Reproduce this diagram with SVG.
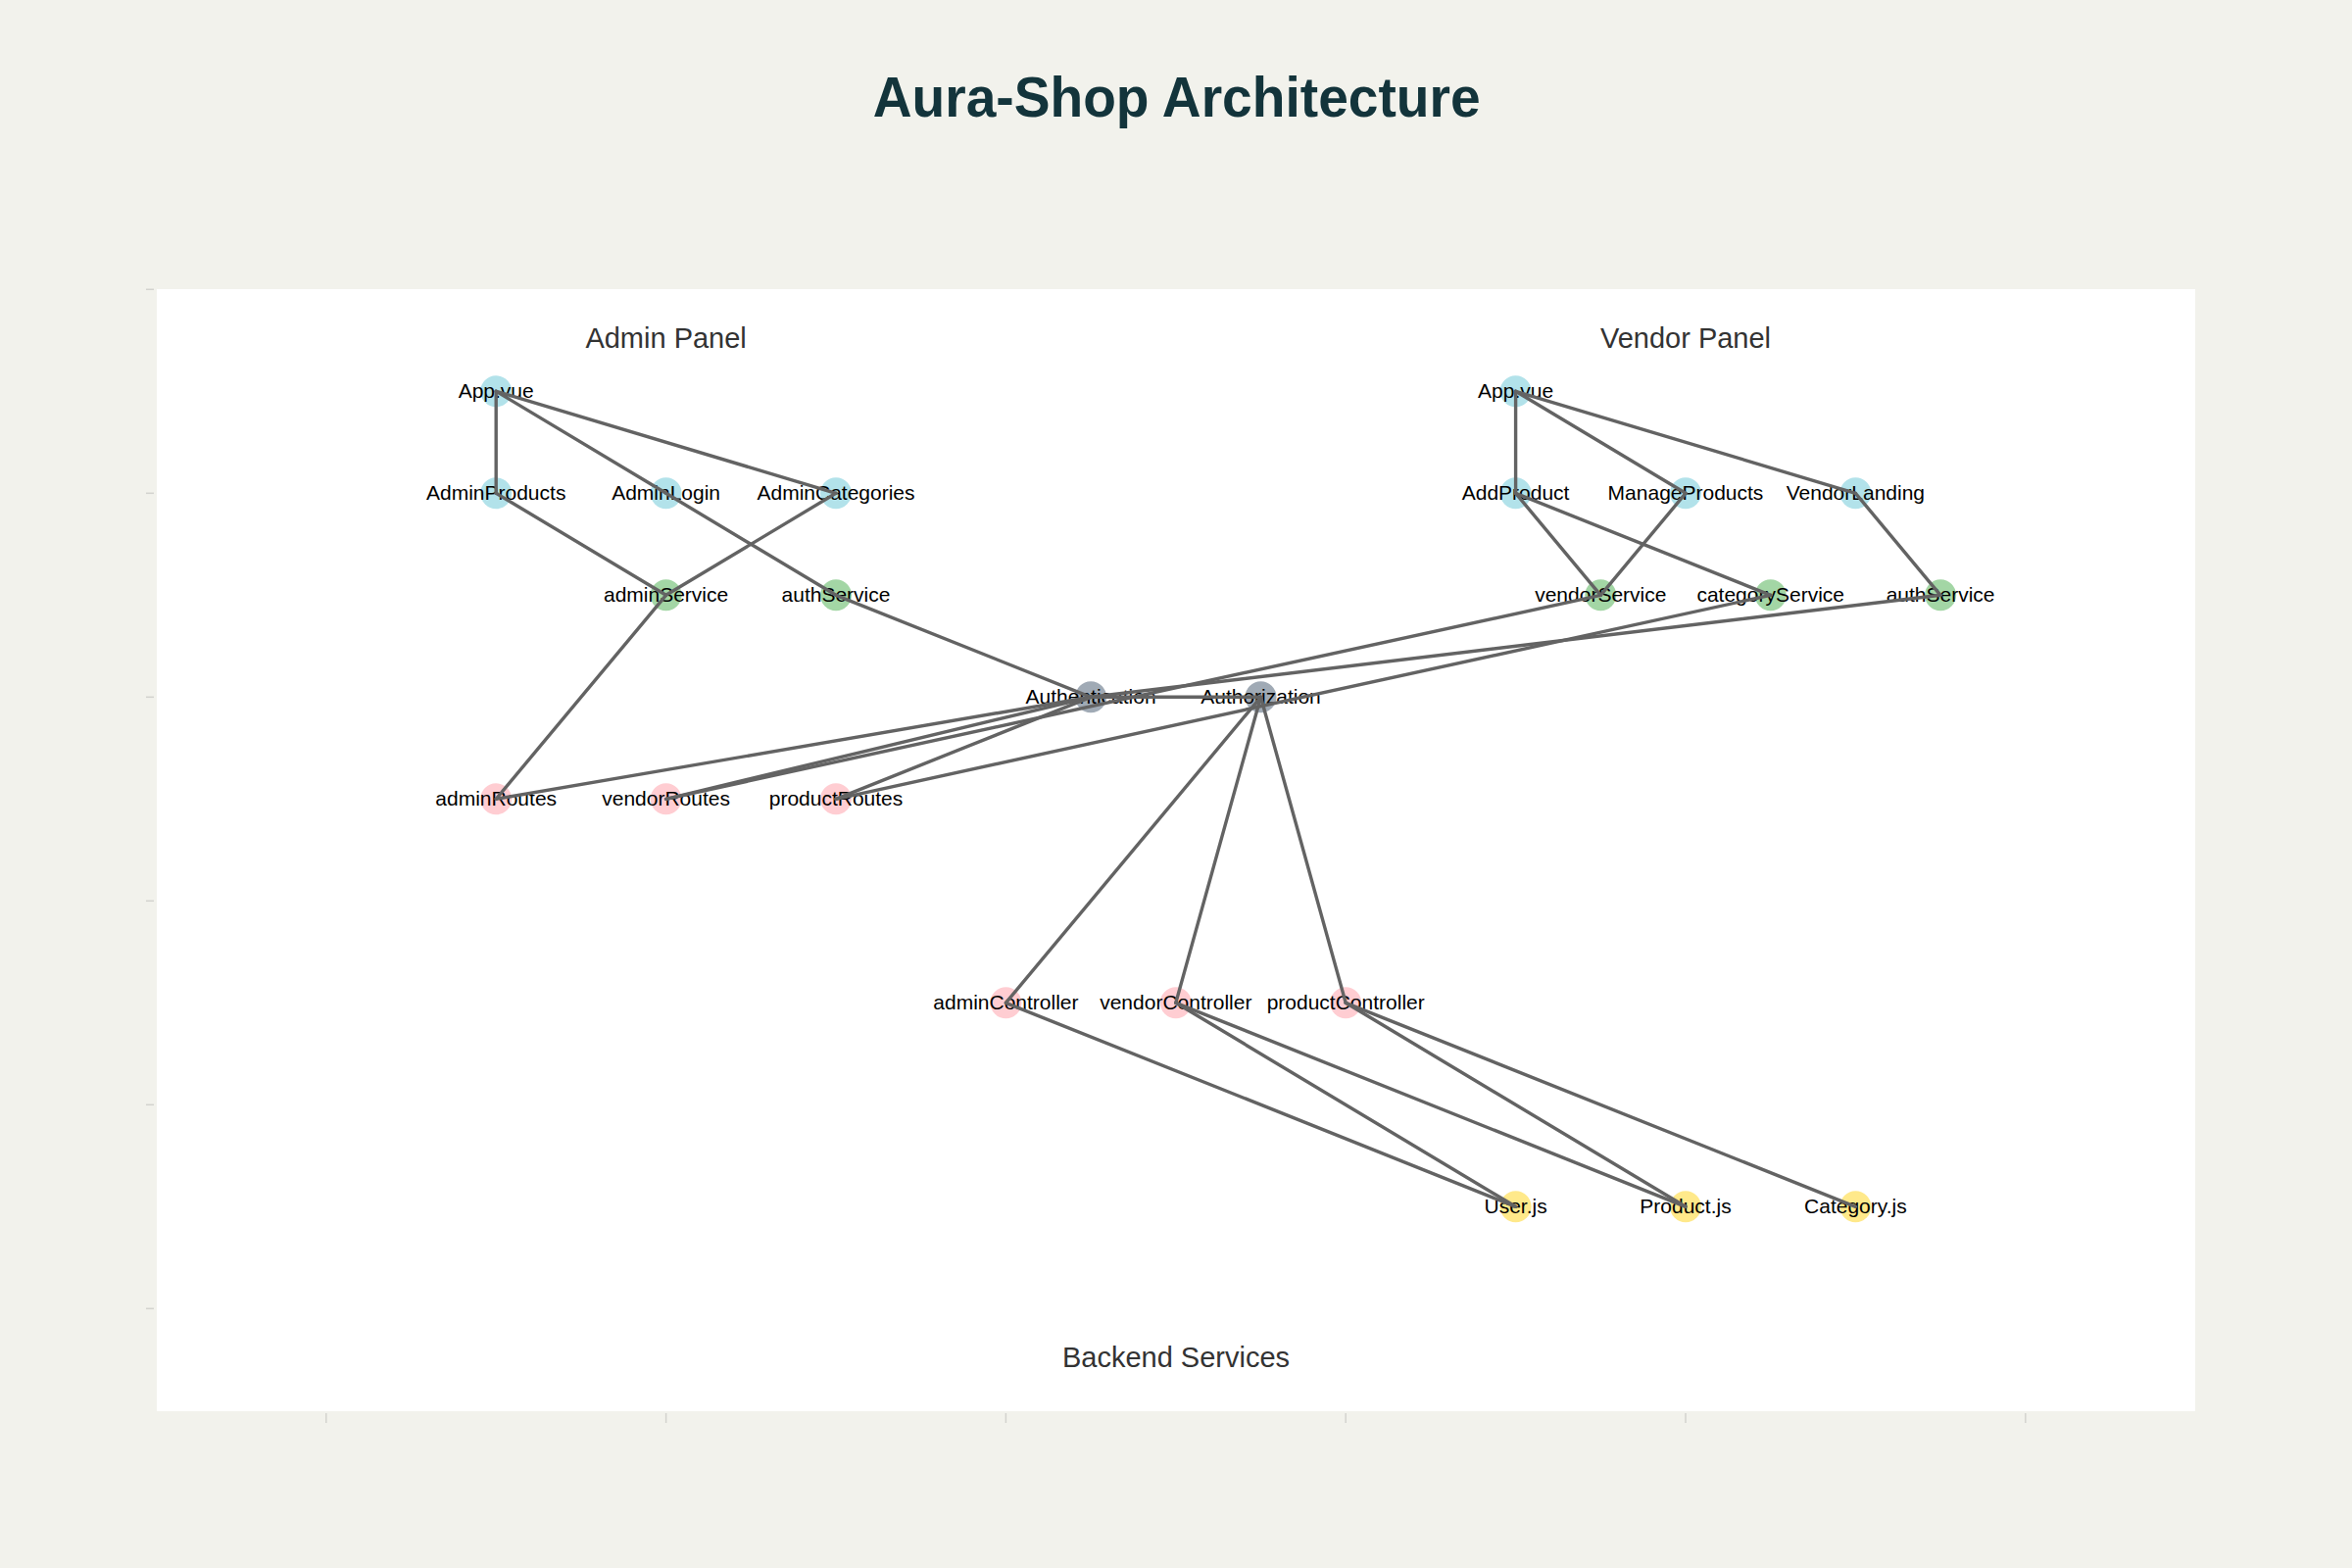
<svg xmlns="http://www.w3.org/2000/svg" width="2400" height="1600" viewBox="0 0 2400 1600">
<style>
.bg{fill:#F2F2EC}
.plot{fill:#FFFFFF}
.tick{stroke:#D3D3CF;stroke-width:1.5}
.title{font-family:"Liberation Sans",Arial,sans-serif;font-weight:bold;font-size:58px;fill:#13343B}
.panel{font-family:"Liberation Sans",Arial,sans-serif;font-size:29px;fill:#333333}
.lbl{font-family:"Liberation Sans",Arial,sans-serif;font-size:21px;fill:#000000;text-anchor:middle}
.fe{fill:#B2E2EA}
.svc{fill:#A3D6A5}
.be{fill:#FFCDD2}
.sec{fill:#A0AAB5}
.db{fill:#FFE98A}
.edge{stroke:#636363;stroke-width:3.4;fill:none;stroke-linecap:round}
</style>
<rect class="bg" x="0" y="0" width="2400" height="1600"/>
<rect class="plot" x="160" y="295" width="2080" height="1145"/>
<g id="axes">
<line class="tick" x1="149" y1="295.3" x2="157" y2="295.3"/>
<line class="tick" x1="149" y1="503.3" x2="157" y2="503.3"/>
<line class="tick" x1="149" y1="711.3" x2="157" y2="711.3"/>
<line class="tick" x1="149" y1="919.3" x2="157" y2="919.3"/>
<line class="tick" x1="149" y1="1127.3" x2="157" y2="1127.3"/>
<line class="tick" x1="149" y1="1335.3" x2="157" y2="1335.3"/>
<line class="tick" x1="332.8" y1="1442" x2="332.8" y2="1452"/>
<line class="tick" x1="679.6" y1="1442" x2="679.6" y2="1452"/>
<line class="tick" x1="1026.4" y1="1442" x2="1026.4" y2="1452"/>
<line class="tick" x1="1373.2" y1="1442" x2="1373.2" y2="1452"/>
<line class="tick" x1="1720" y1="1442" x2="1720" y2="1452"/>
<line class="tick" x1="2066.8" y1="1442" x2="2066.8" y2="1452"/>
</g>
<text class="title" x="1200.7" y="119" text-anchor="middle" textLength="620" lengthAdjust="spacingAndGlyphs">Aura-Shop Architecture</text>
<text class="panel" x="679.6" y="355" text-anchor="middle">Admin Panel</text>
<text class="panel" x="1720" y="355" text-anchor="middle">Vendor Panel</text>
<text class="panel" x="1200" y="1395" text-anchor="middle">Backend Services</text>

<g id="n_admin_app"><circle class="fe" cx="506.2" cy="399.3" r="16"/><text class="lbl" x="506.2" y="405.5">App.vue</text></g>
<g id="n_admin_products"><circle class="fe" cx="506.2" cy="503.3" r="16"/><text class="lbl" x="506.2" y="509.5">AdminProducts</text></g>
<g id="n_admin_login"><circle class="fe" cx="679.6" cy="503.3" r="16"/><text class="lbl" x="679.6" y="509.5">AdminLogin</text></g>
<g id="n_admin_categories"><circle class="fe" cx="853" cy="503.3" r="16"/><text class="lbl" x="853" y="509.5">AdminCategories</text></g>
<g id="n_admin_service"><circle class="svc" cx="679.6" cy="607.3" r="16"/><text class="lbl" x="679.6" y="613.5">adminService</text></g>
<g id="n_auth_service_a"><circle class="svc" cx="853" cy="607.3" r="16"/><text class="lbl" x="853" y="613.5">authService</text></g>
<g id="n_authentication"><circle class="sec" cx="1113.1" cy="711.3" r="16"/><text class="lbl" x="1113.1" y="717.5">Authentication</text></g>
<g id="n_authorization"><circle class="sec" cx="1286.5" cy="711.3" r="16"/><text class="lbl" x="1286.5" y="717.5">Authorization</text></g>
<g id="n_admin_routes"><circle class="be" cx="506.2" cy="815.3" r="16"/><text class="lbl" x="506.2" y="821.5">adminRoutes</text></g>
<g id="n_vendor_routes"><circle class="be" cx="679.6" cy="815.3" r="16"/><text class="lbl" x="679.6" y="821.5">vendorRoutes</text></g>
<g id="n_product_routes"><circle class="be" cx="853" cy="815.3" r="16"/><text class="lbl" x="853" y="821.5">productRoutes</text></g>
<g id="n_admin_controller"><circle class="be" cx="1026.4" cy="1023.3" r="16"/><text class="lbl" x="1026.4" y="1029.5">adminController</text></g>
<g id="n_vendor_controller"><circle class="be" cx="1199.8" cy="1023.3" r="16"/><text class="lbl" x="1199.8" y="1029.5">vendorController</text></g>
<g id="n_product_controller"><circle class="be" cx="1373.2" cy="1023.3" r="16"/><text class="lbl" x="1373.2" y="1029.5">productController</text></g>
<g id="n_user_js"><circle class="db" cx="1546.6" cy="1231.3" r="16"/><text class="lbl" x="1546.6" y="1237.5">User.js</text></g>
<g id="n_product_js"><circle class="db" cx="1720" cy="1231.3" r="16"/><text class="lbl" x="1720" y="1237.5">Product.js</text></g>
<g id="n_category_js"><circle class="db" cx="1893.4" cy="1231.3" r="16"/><text class="lbl" x="1893.4" y="1237.5">Category.js</text></g>
<g id="n_vendor_app"><circle class="fe" cx="1546.6" cy="399.3" r="16"/><text class="lbl" x="1546.6" y="405.5">App.vue</text></g>
<g id="n_add_product"><circle class="fe" cx="1546.6" cy="503.3" r="16"/><text class="lbl" x="1546.6" y="509.5">AddProduct</text></g>
<g id="n_manage_products"><circle class="fe" cx="1720" cy="503.3" r="16"/><text class="lbl" x="1720" y="509.5">ManageProducts</text></g>
<g id="n_vendor_landing"><circle class="fe" cx="1893.4" cy="503.3" r="16"/><text class="lbl" x="1893.4" y="509.5">VendorLanding</text></g>
<g id="n_vendor_service"><circle class="svc" cx="1633.3" cy="607.3" r="16"/><text class="lbl" x="1633.3" y="613.5">vendorService</text></g>
<g id="n_category_service"><circle class="svc" cx="1806.7" cy="607.3" r="16"/><text class="lbl" x="1806.7" y="613.5">categoryService</text></g>
<g id="n_auth_service_v"><circle class="svc" cx="1980.1" cy="607.3" r="16"/><text class="lbl" x="1980.1" y="613.5">authService</text></g>

<g id="connectors" class="edge">
<line x1="506.2" y1="399.3" x2="506.2" y2="503.3"/>
<line x1="506.2" y1="399.3" x2="679.6" y2="503.3"/>
<line x1="506.2" y1="399.3" x2="853" y2="503.3"/>
<line x1="679.6" y1="503.3" x2="853" y2="607.3"/>
<line x1="506.2" y1="503.3" x2="679.6" y2="607.3"/>
<line x1="853" y1="503.3" x2="679.6" y2="607.3"/>
<line x1="679.6" y1="607.3" x2="506.2" y2="815.3"/>
<line x1="853" y1="607.3" x2="1113.1" y2="711.3"/>
<line x1="1113.1" y1="711.3" x2="1286.5" y2="711.3"/>
<line x1="1113.1" y1="711.3" x2="506.2" y2="815.3"/>
<line x1="1113.1" y1="711.3" x2="679.6" y2="815.3"/>
<line x1="1113.1" y1="711.3" x2="853" y2="815.3"/>
<line x1="1633.3" y1="607.3" x2="679.6" y2="815.3"/>
<line x1="1806.7" y1="607.3" x2="853" y2="815.3"/>
<line x1="1980.1" y1="607.3" x2="1113.1" y2="711.3"/>
<line x1="1286.5" y1="711.3" x2="1026.4" y2="1023.3"/>
<line x1="1286.5" y1="711.3" x2="1199.8" y2="1023.3"/>
<line x1="1286.5" y1="711.3" x2="1373.2" y2="1023.3"/>
<line x1="1026.4" y1="1023.3" x2="1546.6" y2="1231.3"/>
<line x1="1199.8" y1="1023.3" x2="1546.6" y2="1231.3"/>
<line x1="1199.8" y1="1023.3" x2="1720" y2="1231.3"/>
<line x1="1373.2" y1="1023.3" x2="1720" y2="1231.3"/>
<line x1="1373.2" y1="1023.3" x2="1893.4" y2="1231.3"/>
<line x1="1546.6" y1="399.3" x2="1546.6" y2="503.3"/>
<line x1="1546.6" y1="399.3" x2="1720" y2="503.3"/>
<line x1="1546.6" y1="399.3" x2="1893.4" y2="503.3"/>
<line x1="1546.6" y1="503.3" x2="1633.3" y2="607.3"/>
<line x1="1546.6" y1="503.3" x2="1806.7" y2="607.3"/>
<line x1="1720" y1="503.3" x2="1633.3" y2="607.3"/>
<line x1="1893.4" y1="503.3" x2="1980.1" y2="607.3"/>
</g>
</svg>
